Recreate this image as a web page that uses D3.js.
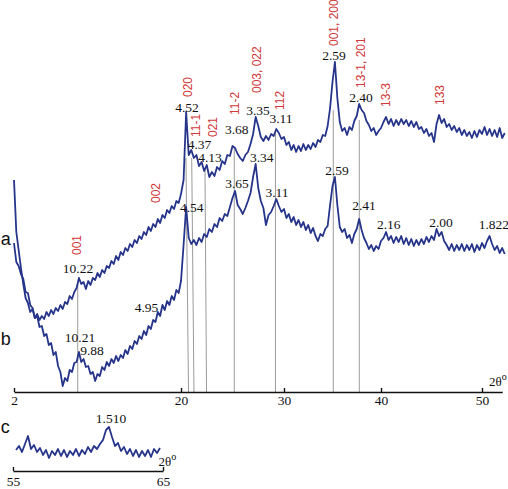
<!DOCTYPE html>
<html>
<head>
<meta charset="utf-8">
<script src="https://cdn.jsdelivr.net/npm/d3@7"></script>
<style>
  html, body { margin: 0; padding: 0; background: #fff; }
  svg { display: block; }
</style>
</head>
<body>
<svg id="chart" width="508" height="489"></svg>
<script>
// ---- data ----
// scan grid for traces a and b (2θ, degrees)
const scanStart = 2.0;
const scanStep = 0.25;
// trace a: relative intensity, one value per scan step (2.00 ... 52.25)
const intensityA = [
  220,168,150,132, 116,102,97,88, 91,82,86,80, 84,81,88,84,
  90,86,92,89, 95,91,98,96, 104,101,108,112, 122,116,118,111,
  119,115,122,120, 127,123,130,127, 134,132,139,136, 144,140,148,145,
  152,149,156,153, 160,157,164,161, 168,165,173,169, 176,173,181,177,
  185,182,190,187, 194,191,199,197, 206,220,288,245, 250,242,245,234,
  238,229,235,223, 228,224,233,230, 239,236,245,244, 254,252,246,242,
  239,245,248,256, 266,283,274,263, 259,264,260,266, 264,271,267,261,
  263,255,258,250, 255,248,254,249, 256,250,255,251, 257,253,260,258,
  265,264,274,292, 318,338,302,278, 269,272,265,273, 270,279,284,296,
  290,287,279,275, 269,272,265,269, 272,278,283,276, 281,274,280,275,
  281,276,280,274, 279,273,278,271, 273,267,271,264, 267,258,276,285,
  277,281,273,276, 270,274,268,272, 265,270,264,268, 262,269,263,270,
  266,273,265,271, 264,270,263,272, 262,267
];
// trace b: relative intensity, one value per scan step (2.00 ... 52.25)
const intensityB = [
  157,138,134,126, 121,108,107,95, 92,82,84,73, 74,64,66,55,
  57,45,48,34, 28,14,22,19, 30,28,37,38, 48,38,41,33,
  34,26,28,19, 26,24,33,30, 38,34,41,37, 44,39,45,42,
  50,46,54,51, 59,56,64,61, 69,65,74,71, 80,78,88,84,
  95,90,99,95, 104,100,110,107, 119,155,193,162, 156,160,155,162,
  158,166,163,171, 168,176,173,182, 179,186,184,193, 202,209,195,191,
  186,192,199,207, 223,236,212,199, 192,175,185,188, 194,201,194,188,
  191,182,186,178, 183,175,180,173, 178,170,175,167, 172,164,159,166,
  164,171,174,195, 214,223,195,173, 168,171,162,165, 157,166,171,181,
  170,162,157,151, 155,149,154,151, 159,162,168,160, 164,157,163,158,
  164,156,162,155, 161,154,160,155, 161,156,163,158, 164,160,171,164,
  168,159,155,150, 156,149,155,150, 156,149,155,150, 156,148,155,150,
  157,152,159,164, 156,150,154,147, 152,146
];
// trace c: separate 55–65° scan
const scanStartC = 55.2;
const scanStepC = 0.2;
const intensityC = [
  20,24,18,26,34,21,25,18,22,15, 20,12,19,15,21,14,20,13,19,15,
  21,14,20,16,23,18,24,21,26,30, 40,43,33,24,27,19,23,16,21,14,
  20,13,19,14,20,13,21,17,22
];

// axis ticks
const mainTicks = [2, 20, 30, 40, 50];
const cTicks = [55, 65];

// d-spacing labels [text, 2θ, intensity]
const dLabels = [
  ["10.22", 8.9, 127], ["10.21", 9.11, 58], ["9.88", 10.41, 45], ["4.95", 16.28, 88],
  ["4.54", 21.04, 188], ["4.52", 20.58, 288], ["4.37", 21.8, 251], ["4.13", 22.82, 238],
  ["3.68", 25.41, 266], ["3.65", 25.44, 212], ["3.35", 27.48, 285], ["3.11", 29.71, 277],
  ["3.34", 27.84, 238], ["3.11", 29.32, 203], ["2.59", 35.15, 340], ["2.40", 37.94, 298],
  ["2.59", 35.46, 225], ["2.41", 38.25, 190], ["2.16", 40.77, 171], ["2.00", 45.94, 173],
  ["1.822", 51.17, 171]
];
const dLabelC = ["1.510", 61.53, 47];

// hkl indices (red, vertical) [text, 2θ, intensity at start of text]
const hklLabels = [
  ["001", 8.79, 145], ["002", 17.27, 197], ["020", 20.65, 303], ["11-1", 21.49, 263],
  ["021", 23.06, 263], ["11-2", 25.29, 285], ["003, 022", 27.42, 307], ["112", 29.58, 290],
  ["001, 200", 35.15, 354], ["13-1, 201", 37.9, 312], ["13-3", 40.53, 293], ["133", 45.81, 295]
];

// reference drop lines [2θ top, 2θ bottom, intensity top]
const dropLines = [
  [8.87, 8.87, 117], [20.48, 20.73, 242], [21.04, 21.26, 242], [22.33, 22.48, 232],
  [25.17, 25.17, 252], [29.17, 29.17, 267], [35.08, 35.08, 290], [37.76, 37.76, 280]
];
const axisLevel = 8;

// trace labels [text, 2θ, intensity]
const traceNames = [["a", 0.56, 155], ["b", 0.56, 55]];
const traceNameC = ["c", 54.18, 37];

// ---- drawing ----
const svg = d3.select("#chart");
const blue = "#26348a";
const red = "#d0383a";
const serif = "'Liberation Serif','Times New Roman',serif";
const sans = "'Liberation Sans',Arial,sans-serif";

const x = d3.scaleLinear()
  .domain([2, 20, 30, 40, 50, 52])
  .range([14, 181, 284, 381, 482, 502.2]);
const y = d3.scaleLinear().domain([0, 400]).range([400, 0]);

const xc = d3.scaleLinear().domain([55, 65]).range([13, 163]);
const yc = d3.scaleLinear().domain([0, 60]).range([470, 410]);

const ptsA = intensityA.map((v, i) => [scanStart + i * scanStep, v]);
const ptsB = intensityB.map((v, i) => [scanStart + i * scanStep, v]);
const ptsC = intensityC.map((v, i) => [scanStartC + i * scanStepC, v]);

// drop lines
svg.append("g").selectAll("line").data(dropLines).join("line")
  .attr("x1", d => x(d[0])).attr("y1", d => y(d[2]))
  .attr("x2", d => x(d[1])).attr("y2", y(axisLevel))
  .attr("stroke", "#9a9a9a").attr("stroke-width", 1);

// main axis
const axis = d3.axisBottom(x).tickValues(mainTicks).tickFormat(d3.format("d"))
  .tickSizeInner(-4).tickSizeOuter(0).tickPadding(3);
const gAxis = svg.append("g").attr("transform", `translate(0,${y(axisLevel)})`).call(axis);
gAxis.select(".domain").attr("stroke", "#111").attr("stroke-width", 1.6);
gAxis.selectAll(".tick line").attr("stroke", "#111").attr("stroke-width", 1.4);
gAxis.selectAll("text").attr("font-family", serif).attr("font-size", 13.5).attr("fill", "#111");

// c axis
const axisC = d3.axisBottom(xc).tickValues(cTicks).tickFormat(d3.format("d"))
  .tickSizeInner(-4).tickSizeOuter(0).tickPadding(5);
const gAxisC = svg.append("g").attr("transform", `translate(0,${yc(0) + 1})`).call(axisC);
gAxisC.select(".domain").attr("stroke", "#111").attr("stroke-width", 1.6);
gAxisC.selectAll(".tick line").attr("stroke", "#111").attr("stroke-width", 1.4);
gAxisC.selectAll("text").attr("font-family", serif).attr("font-size", 13.5).attr("fill", "#111");

// traces
const line = d3.line().x(d => x(d[0])).y(d => y(d[1]));
const lineC = d3.line().x(d => xc(d[0])).y(d => yc(d[1]));
[ptsA, ptsB].forEach(p => {
  svg.append("path").datum(p).attr("d", line)
    .attr("fill", "none").attr("stroke", blue).attr("stroke-width", 1.8)
    .attr("stroke-linejoin", "round");
});
svg.append("path").datum(ptsC).attr("d", lineC)
  .attr("fill", "none").attr("stroke", blue).attr("stroke-width", 1.8)
  .attr("stroke-linejoin", "round");

// d-spacing labels
svg.append("g").selectAll("text").data(dLabels).join("text")
  .attr("x", d => x(d[1])).attr("y", d => y(d[2]))
  .attr("text-anchor", "middle")
  .attr("font-family", serif).attr("font-size", 13.5).attr("fill", "#111")
  .text(d => d[0]);
svg.append("text")
  .attr("x", xc(dLabelC[1])).attr("y", yc(dLabelC[2]))
  .attr("text-anchor", "middle")
  .attr("font-family", serif).attr("font-size", 13.5).attr("fill", "#111")
  .text(dLabelC[0]);

// hkl labels
svg.append("g").selectAll("text").data(hklLabels).join("text")
  .attr("transform", d => `translate(${x(d[1])},${y(d[2])}) rotate(-90)`)
  .attr("dominant-baseline", "central")
  .attr("font-family", sans).attr("font-size", 12).attr("fill", red)
  .text(d => d[0]);

// trace names
svg.append("g").selectAll("text").data(traceNames).join("text")
  .attr("x", d => x(d[1])).attr("y", d => y(d[2]))
  .attr("font-family", sans).attr("font-size", 18).attr("fill", "#111")
  .text(d => d[0]);
svg.append("text")
  .attr("x", xc(traceNameC[1])).attr("y", yc(traceNameC[2]))
  .attr("font-family", sans).attr("font-size", 18).attr("fill", "#111")
  .text(traceNameC[0]);

// 2θ° axis titles
function twoTheta(g, px, py) {
  const t = g.append("text").attr("x", px).attr("y", py)
    .attr("font-family", serif).attr("font-size", 13).attr("fill", "#111");
  t.append("tspan").text("2θ");
  t.append("tspan").attr("dy", -6).attr("font-size", 10).text("o");
}
twoTheta(svg, x(50.7), y(axisLevel) - 6);
twoTheta(svg, xc(64.7), yc(4));
</script>
</body>
</html>
